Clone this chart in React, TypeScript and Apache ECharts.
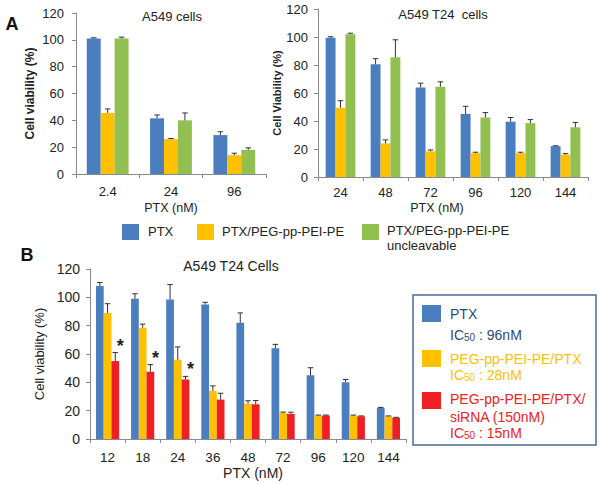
import React, { useEffect, useRef } from 'react';
import * as echarts from 'echarts';

// ---------- Data ----------
const catsA1 = ['2.4', '24', '96'];
const ptxA1 = [101, 41.5, 29];
const ptxA1Err = [0.5, 2.5, 2.5];
const pegA1 = [45.5, 26, 14];
const pegA1Err = [3, 0.5, 1.5];
const uncA1 = [101, 40, 18];
const uncA1Err = [1, 5.5, 1.5];

const catsA2 = ['24', '48', '72', '96', '120', '144'];
const ptxA2 = [99.5, 80.5, 64, 45, 39.5, 22];
const ptxA2Err = [0.7, 4, 3, 5.5, 3, 0.3];
const pegA2 = [49.5, 24, 18.3, 17, 17, 16];
const pegA2Err = [5, 2.5, 1, 0.7, 0.7, 0.7];
const uncA2 = [102, 85.5, 64.5, 42.5, 38.5, 35.5];
const uncA2Err = [0.7, 12.5, 3.5, 3.5, 2.5, 3.5];

const catsB = ['12', '18', '24', '36', '48', '72', '96', '120', '144'];
const ptxB = [108, 99, 98.5, 95, 82, 64, 45, 40, 22];
const ptxBErr = [2.5, 3.5, 10.5, 1.5, 7, 2.8, 5.3, 2, 0.3];
const pegB = [89, 78.5, 56, 34, 25, 18.3, 16.6, 16.6, 16];
const pegBErr = [6.5, 2.6, 9, 3.5, 2, 0.7, 0.3, 0.3, 0.3];
const sirB = [55, 47.5, 42, 27.8, 24.5, 17.7, 16.6, 16, 15];
const sirBErr = [6, 5, 2.2, 4.5, 2.7, 1.2, 0.3, 0.3, 0.3];
const starsB = [true, true, true, false, false, false, false, false, false];

const yTicksMax = 120;
const yTickStep = 20;

// ---------- Styles ----------
const FONT = 'Liberation Sans, Arial, Helvetica, sans-serif';
const BLUE = '#4a7ebf';
const YELLOW = '#ffc000';
const GREEN = '#92c050';
const RED = '#ee2024';
const NAVY = '#2c4a7c';
const AXIS = '#8a8a8a';
const TXT = '#222';
const ERR = '#333';
const GAP = 0.34;

function errorSeries(gi: number, vals: number[][], errs: number[][], stars?: boolean[]) {
  return {
    type: 'custom',
    xAxisIndex: gi,
    yAxisIndex: gi,
    silent: true,
    z: 10,
    data: vals[0].map((_, i) => [i, 0]),
    encode: { x: 0, y: 1 },
    renderItem: (params: any, api: any) => {
      const i = api.value(0);
      const band = api.size([1, 0])[0];
      const bw = (band * (1 - GAP)) / 3;
      const c0 = api.coord([i, 0])[0];
      const cap = 2.75;
      const children: any[] = [];
      for (let s = 0; s < 3; s++) {
        const cx = c0 + (s - 1) * bw;
        const yV = api.coord([i, vals[s][i]])[1];
        const yT = api.coord([i, vals[s][i] + errs[s][i]])[1];
        children.push({
          type: 'line',
          shape: { x1: cx, y1: yV, x2: cx, y2: yT },
          style: { stroke: ERR, lineWidth: 1 },
        });
        children.push({
          type: 'line',
          shape: { x1: cx - cap, y1: yT, x2: cx + cap, y2: yT },
          style: { stroke: ERR, lineWidth: 1 },
        });
        if (stars && s === 2 && stars[i]) {
          children.push({
            type: 'text',
            x: cx + 5,
            y: yT - 7,
            style: {
              text: '*',
              fontSize: 18,
              fontWeight: 'bold',
              fontFamily: FONT,
              fill: '#222',
              align: 'center',
              verticalAlign: 'middle',
            },
          });
        }
      }
      return { type: 'group', children };
    },
  };
}

function bar(name: string, gi: number, data: number[], color: string) {
  return {
    name,
    type: 'bar',
    xAxisIndex: gi,
    yAxisIndex: gi,
    data,
    barGap: '0%',
    barCategoryGap: GAP * 100 + '%',
    itemStyle: { color },
  };
}

function xAxis(gi: number, data: string[], fs: number, margin: number, nameGap: number, nameFs: number, namePad: number[]) {
  return {
    type: 'category',
    gridIndex: gi,
    data,
    name: 'PTX (nM)',
    nameLocation: 'middle',
    nameGap,
    nameTextStyle: { fontSize: nameFs, color: TXT, fontFamily: FONT, padding: namePad },
    axisLine: { lineStyle: { color: AXIS } },
    axisTick: { show: true, length: 4, lineStyle: { color: AXIS } },
    axisLabel: { fontSize: fs, color: TXT, fontFamily: FONT, margin },
  };
}

function yAxis(gi: number, name: string, bold: boolean, nameFs: number, nameGap: number, fs: number, margin: number) {
  return {
    type: 'value',
    gridIndex: gi,
    min: 0,
    max: yTicksMax,
    interval: yTickStep,
    name,
    nameLocation: 'middle',
    nameRotate: 90,
    nameGap,
    nameTextStyle: { fontSize: nameFs, fontWeight: bold ? 'bold' : 'normal', color: TXT, fontFamily: FONT },
    splitLine: { show: false },
    axisLine: { show: true, lineStyle: { color: AXIS } },
    axisTick: { show: true, length: 4, lineStyle: { color: AXIS } },
    axisLabel: { fontSize: fs, color: TXT, fontFamily: FONT, margin },
  };
}

const sub = (color: string, fs: number) => ({
  n: { fontSize: fs, fill: color, fontFamily: FONT },
  s: { fontSize: 10, fill: color, fontFamily: FONT, verticalAlign: 'bottom' },
});

const option: any = {
  animation: false,
  backgroundColor: '#fff',
  title: [
    { text: 'A549 cells', left: 172, top: 10, textAlign: 'center', padding: 0,
      textStyle: { fontSize: 13, fontWeight: 'normal', color: TXT, fontFamily: FONT } },
    { text: 'A549 T24  cells', left: 443, top: 8, textAlign: 'center', padding: 0,
      textStyle: { fontSize: 13, fontWeight: 'normal', color: TXT, fontFamily: FONT } },
    { text: 'A549 T24 Cells', left: 231, top: 259, textAlign: 'center', padding: 0,
      textStyle: { fontSize: 14, fontWeight: 'normal', color: TXT, fontFamily: FONT } },
  ],
  grid: [
    { left: 76, top: 13, width: 190, height: 161 },
    { left: 318, top: 9, width: 270, height: 168 },
    { left: 90, top: 269, width: 316, height: 170 },
  ],
  xAxis: [
    xAxis(0, catsA1, 13, 11, 27, 12.5, [0, 0, 0, 0]),
    xAxis(1, catsA2, 13, 9, 24, 12.5, [0, 32, 0, 0]),
    xAxis(2, catsB, 13.5, 11, 27, 14, [0, 0, 0, 10]),
  ],
  yAxis: [
    yAxis(0, 'Cell viability (%)', true, 12, 40, 13, 12),
    yAxis(1, 'Cell Viability (%)', true, 11, 34, 13, 10),
    yAxis(2, 'Cell viability (%)', false, 13, 37, 14, 10),
  ],
  series: [
    bar('PTX', 0, ptxA1, BLUE),
    bar('PTX/PEG-pp-PEI-PE', 0, pegA1, YELLOW),
    bar('PTX/PEG-pp-PEI-PE uncleavable', 0, uncA1, GREEN),
    errorSeries(0, [ptxA1, pegA1, uncA1], [ptxA1Err, pegA1Err, uncA1Err]),
    bar('PTX', 1, ptxA2, BLUE),
    bar('PTX/PEG-pp-PEI-PE', 1, pegA2, YELLOW),
    bar('PTX/PEG-pp-PEI-PE uncleavable', 1, uncA2, GREEN),
    errorSeries(1, [ptxA2, pegA2, uncA2], [ptxA2Err, pegA2Err, uncA2Err]),
    bar('PTX (B)', 2, ptxB, BLUE),
    bar('PEG-pp-PEI-PE/PTX', 2, pegB, YELLOW),
    bar('PEG-pp-PEI-PE/PTX/siRNA(150nM)', 2, sirB, RED),
    errorSeries(2, [ptxB, pegB, sirB], [ptxBErr, pegBErr, sirBErr], starsB),
  ],
  graphic: [
    { type: 'text', x: 12, y: 24, style: { text: 'A', fontSize: 18, fontWeight: 'bold', fill: '#111', fontFamily: FONT, align: 'center', verticalAlign: 'middle' } },
    { type: 'text', x: 27, y: 255, style: { text: 'B', fontSize: 18, fontWeight: 'bold', fill: '#111', fontFamily: FONT, align: 'center', verticalAlign: 'middle' } },
    // Legend A
    { type: 'rect', shape: { x: 122, y: 224, width: 17, height: 16 }, style: { fill: BLUE } },
    { type: 'text', x: 148, y: 231, style: { text: 'PTX', fontSize: 13, fill: TXT, fontFamily: FONT, verticalAlign: 'middle' } },
    { type: 'rect', shape: { x: 197, y: 224, width: 17, height: 16 }, style: { fill: YELLOW } },
    { type: 'text', x: 222, y: 231, style: { text: 'PTX/PEG-pp-PEI-PE', fontSize: 13, fill: TXT, fontFamily: FONT, verticalAlign: 'middle' } },
    { type: 'rect', shape: { x: 362, y: 224, width: 17, height: 16 }, style: { fill: GREEN } },
    { type: 'text', x: 387, y: 222.5, style: { text: 'PTX/PEG-pp-PEI-PE\nuncleavable', fontSize: 13, lineHeight: 15, fill: TXT, fontFamily: FONT, verticalAlign: 'top' } },
    // Legend B
    { type: 'rect', shape: { x: 413, y: 295, width: 183, height: 150 }, style: { fill: 'none', stroke: '#4a6a9a', lineWidth: 1.5 } },
    { type: 'rect', shape: { x: 422, y: 305, width: 19, height: 17 }, style: { fill: BLUE } },
    { type: 'text', x: 450, y: 314, style: { text: 'PTX', fontSize: 14, fill: NAVY, fontFamily: FONT, verticalAlign: 'middle' } },
    { type: 'text', x: 450, y: 335, style: { text: '{n|IC}{s|50}{n| : 96nM}', rich: sub(NAVY, 14), verticalAlign: 'middle' } },
    { type: 'rect', shape: { x: 422, y: 350, width: 19, height: 17 }, style: { fill: YELLOW } },
    { type: 'text', x: 450, y: 359, style: { text: 'PEG-pp-PEI-PE/PTX', fontSize: 14, fill: YELLOW, fontFamily: FONT, verticalAlign: 'middle' } },
    { type: 'text', x: 450, y: 375, style: { text: '{n|IC}{s|50}{n| : 28nM}', rich: sub(YELLOW, 14), verticalAlign: 'middle' } },
    { type: 'rect', shape: { x: 422, y: 392, width: 19, height: 17 }, style: { fill: RED } },
    { type: 'text', x: 450, y: 399, style: { text: 'PEG-pp-PEI-PE/PTX/', fontSize: 14, fill: RED, fontFamily: FONT, verticalAlign: 'middle' } },
    { type: 'text', x: 450, y: 417, style: { text: 'siRNA (150nM)', fontSize: 14, fill: RED, fontFamily: FONT, verticalAlign: 'middle' } },
    { type: 'text', x: 450, y: 433, style: { text: '{n|IC}{s|50}{n| : 15nM}', rich: sub(RED, 14), verticalAlign: 'middle' } },
  ],
};

export default function App() {
  const ref = useRef<HTMLDivElement>(null);
  useEffect(() => {
    const chart = echarts.init(ref.current!, undefined, { renderer: 'svg' });
    chart.setOption(option);
    return () => chart.dispose();
  }, []);
  return (
    <div
      ref={ref}
      style={{ position: 'fixed', left: 0, top: 0, width: 602, height: 484, background: '#fff' }}
    />
  );
}
